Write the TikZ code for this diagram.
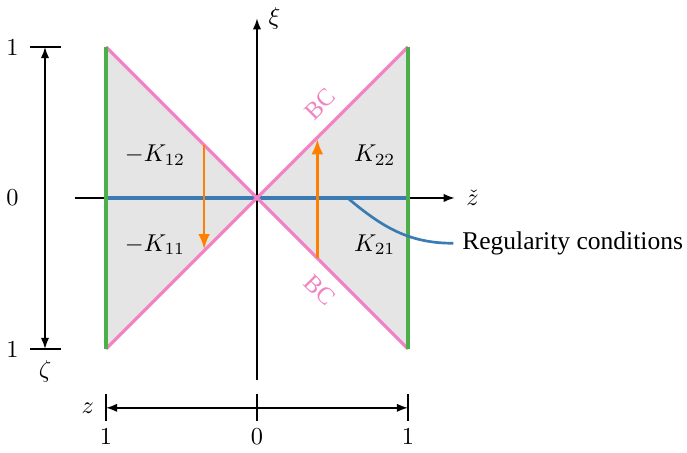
\documentclass[tikz,border=0pt]{standalone}
\usepackage{fontspec}
\newfontfamily\labelfont{Liberation Serif}
\usepackage[dvipsnames]{xcolor}
\definecolor{mypink}{HTML}{F282C2}
\definecolor{mygreen}{HTML}{4CAF4A}
\definecolor{myblue}{HTML}{3A7BB4}
\definecolor{myorange}{HTML}{FF8000}
\usepackage{tikz}
\usetikzlibrary{arrows.meta}

\begin{document}
\begin{tikzpicture}[x=2.18cm,y=2.18cm,>={Latex[length=1.6mm,width=1.2mm]}]
      \useasboundingbox (-1.702,-1.689) rectangle (2.848,1.311);
      \coordinate (O) at (0,0);
      \coordinate (TL) at (-1,1);
      \coordinate (BL) at (-1,-1);
      \coordinate (TR) at (1,1);
      \coordinate (BR) at (1,-1);
      \coordinate (L) at (-1,0);
      \coordinate (R) at (1,0);

      \fill[black!10] (TL) -- (O) -- (BL) -- cycle; % Given
      \fill[black!10] (TR) -- (O) -- (BR) -- cycle; % Given

      % axes
      \coordinate (xs) at (-1.205,0);
      \coordinate (xe) at (1.31,0);
      \coordinate (ys) at (0,-1.205);
      \coordinate (ye) at (0,1.19);
      \draw[->, line width=0.7pt] (xs) -- (xe);
      \draw[->, line width=0.7pt] (ys) -- (ye);
      \node[anchor=west] (zt) at (1.33,0) {\(\check{z}\)};
      \node[anchor=west] (xi) at (0.02,1.19) {\(\xi\)};

      \draw[myblue, line width=1.4pt] (L) -- (R);
      \draw[mypink, line width=1.3pt] (TL) -- (BR);
      \draw[mypink, line width=1.3pt] (BL) -- (TR);
      \draw[mygreen, line width=1.3pt] (TL) -- (BL);
      \draw[mygreen, line width=1.3pt] (TR) -- (BR);

      \node[mypink, rotate=45] (bcu) at (0.417,0.62) {\labelfont BC};
      \node[mypink, rotate=-45] (bcl) at (0.417,-0.61) {\labelfont BC};

      \node (k12) at (-0.675,0.285) {\(-K_{12}\)};
      \node (k11) at (-0.675,-0.31) {\(-K_{11}\)};
      \node (k22) at (0.78,0.285) {\(K_{22}\)};
      \node (k21) at (0.78,-0.31) {\(K_{21}\)};

      \coordinate (a1) at (-0.35,0.35);
      \coordinate (a2) at (-0.35,-0.34);
      \coordinate (b1) at (0.4,-0.4);
      \coordinate (b2) at (0.4,0.39);
      \draw[-{Latex[length=2.2mm,width=1.7mm]}, myorange, line width=1.1pt] (a1) -- (a2);
      \draw[-{Latex[length=2.2mm,width=1.7mm]}, myorange, line width=1.1pt] (b1) -- (b2);

      \coordinate (rs) at (0.6,0);
      \node[anchor=west, inner sep=3.5pt] (reg) at (1.30,-0.30) {\labelfont\fontsize{10.5}{12}\selectfont Regularity conditions};
      \draw[myblue, line width=1.1pt] (rs) to[out=-40,in=180] (reg.west);

      % left scale
      \coordinate (lt) at (-1.404,1);
      \coordinate (lb) at (-1.404,-1);
      \draw[<->, line width=0.7pt] (lt) -- (lb);
      \draw[line width=0.7pt] (-1.5,1) -- (-1.3,1);
      \draw[line width=0.7pt] (-1.5,-1) -- (-1.3,-1);
      \node (ly1) at (-1.62,1) {1};
      \node (ly0) at (-1.62,0) {0};
      \node (ly2) at (-1.62,-1) {1};
      \node (zeta) at (-1.404,-1.15) {\(\zeta\)};

      % bottom scale
      \coordinate (bl) at (-1,-1.39);
      \coordinate (br) at (1,-1.39);
      \draw[<->, line width=0.7pt] (bl) -- (br);
      \foreach \x in {-1,0,1}
        \draw[line width=0.7pt] (\x,-1.30) -- (\x,-1.48);
      \node (bx1) at (-1,-1.58) {1};
      \node (bx0) at (0,-1.58) {0};
      \node (bx2) at (1,-1.58) {1};
      \node (zz) at (-1.12,-1.39) {\(z\)};
    \end{tikzpicture}
\end{document}
